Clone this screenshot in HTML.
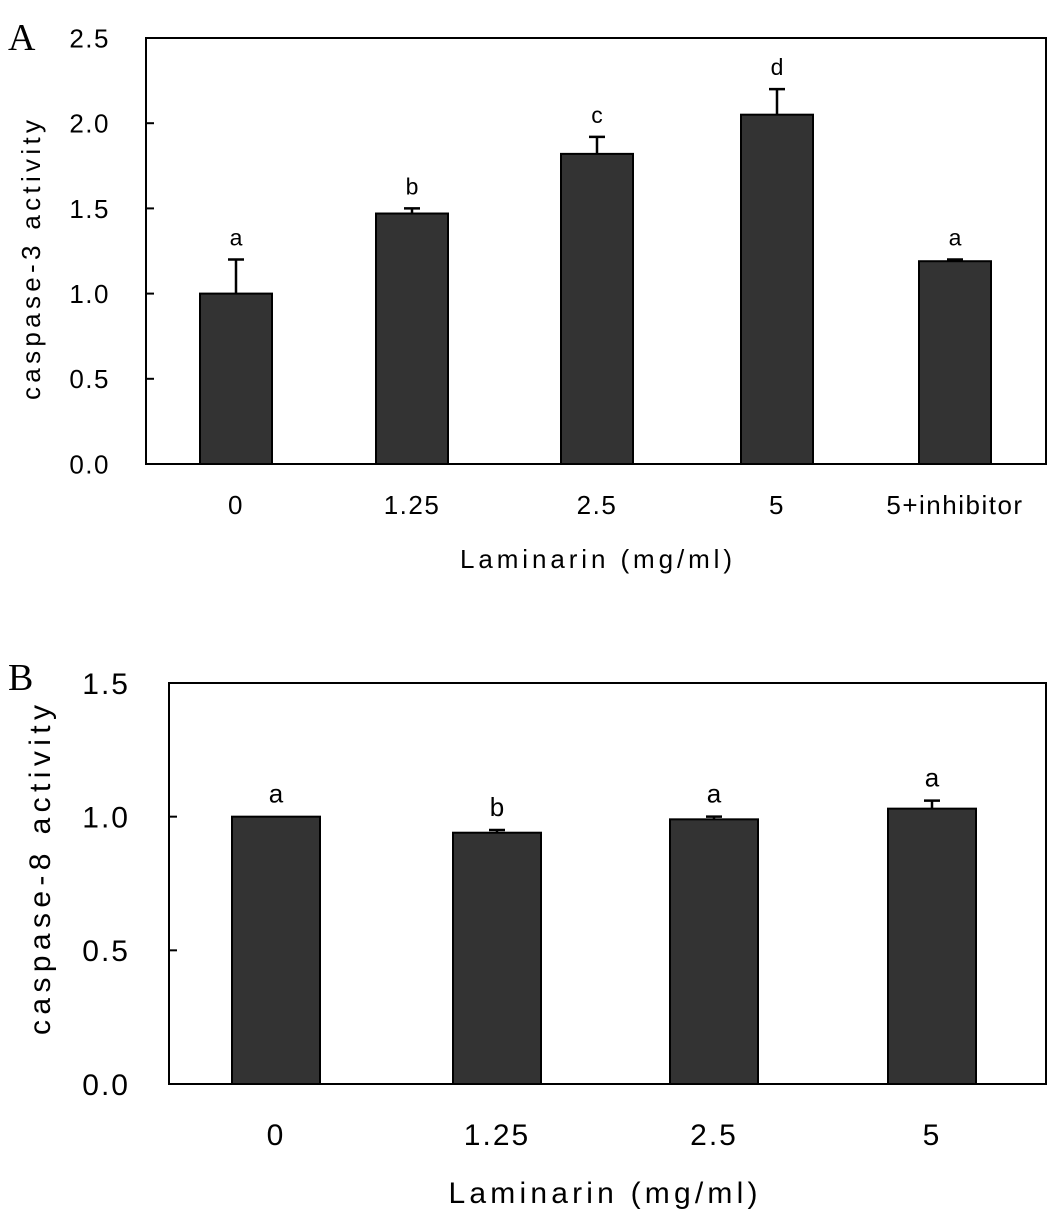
<!DOCTYPE html>
<html><head><meta charset="utf-8"><style>
body{margin:0;background:#fff;}
svg text{font-family:"Liberation Sans","NanumGothic",sans-serif;fill:#000;}
</style></head><body>
<svg id="chart" width="1063" height="1222" xmlns="http://www.w3.org/2000/svg"></svg>
<script>
const catsA = ["0","1.25","2.5","5","5+inhibitor"];
const valsA = [1.0,1.47,1.82,2.05,1.19];
const errA = [0.2,0.03,0.1,0.15,0.01];
const sigA = ["a","b","c","d","a"];
const ticksA = ["0.0","0.5","1.0","1.5","2.0","2.5"];
const catsB = ["0","1.25","2.5","5"];
const valsB = [1.0,0.94,0.99,1.03];
const errB = [0,0.01,0.01,0.03];
const sigB = ["a","b","a","a"];
const ticksB = ["0.0","0.5","1.0","1.5"];

const svg = document.getElementById('chart');
const NS = "http://www.w3.org/2000/svg";
function mk(tag, attrs, parent){const e=document.createElementNS(NS,tag);for(const k in attrs)e.setAttribute(k,attrs[k]);(parent||svg).appendChild(e);return e;}

function panel(o){
  const g = mk('g',{});
  
  
  const y = v => o.y0 - (v/o.max)*(o.y0-o.y1);
  const x = i => o.centers[i];
  const lbl = mk('text',{x:8,y:o.letterY,'font-size':38,style:'font-family:"Liberation Serif",serif'},g);
  lbl.textContent = o.letter;
  
  
  const ls = 'letter-spacing:'+o.ls+'px';
  o.ticks.forEach(t=>{
    const v=parseFloat(t), yy=y(v);
    const tl=mk('line',{x1:o.x0,x2:o.x0+8,y1:yy,y2:yy,stroke:'#000','stroke-width':2},g);
    
    
    const tt=mk('text',{x:o.tickRight,y:yy+o.fs*0.36,'font-size':o.fs,'text-anchor':'end',style:ls},g);
    tt.textContent=t;
    
    
  });
  o.cats.forEach((c,i)=>{
    const top=y(o.vals[i]);
    const b=mk('rect',{x:x(i)-o.bw/2,y:top,width:o.bw,height:o.y0-top,fill:'#333',stroke:'#000','stroke-width':2},g);
    
    
    if(o.errs[i]>0){
      const ye=y(o.vals[i]+o.errs[i]);
      const el=mk('path',{d:`M${x(i)} ${top}V${ye}M${x(i)-8} ${ye}H${x(i)+8}`,stroke:'#000','stroke-width':2.5,fill:'none'},g);
      
      
    }
    const s=mk('text',{x:x(i),y:y(o.vals[i]+o.errs[i])-14,'font-size':o.sfs,'text-anchor':'middle'},g);
    s.textContent=o.sig[i];
    
    
    const xl=mk('text',{x:x(i),y:o.xlY,'font-size':o.fs,'text-anchor':'middle',style:ls},g);
    xl.textContent=c;
    
    
  });
  const fr=mk('rect',{x:o.x0,y:o.y1,width:o.x1-o.x0,height:o.y0-o.y1,fill:'none',stroke:'#000','stroke-width':2},g);
  
  
  const xt=mk('text',{x:o.xtX-o.xtLen/2,y:o.xtY,'font-size':o.tfs,textLength:o.xtLen,lengthAdjust:'spacing'},g);
  xt.textContent='Laminarin (mg/ml)';
  
  
  const yt=mk('text',{x:-o.ytLen/2,y:0,'font-size':o.tfs,textLength:o.ytLen,lengthAdjust:'spacing',transform:`translate(${o.ytX},${o.ytY}) rotate(-90)`},g);
  yt.textContent=o.ytitle;
  
  
}
panel({name:'panel-a',letter:'A',letterY:50,x0:146,x1:1046,y0:464,y1:38,max:2.5,centers:[236,412,597,777,955],bw:72,
  cats:catsA,vals:valsA,errs:errA,sig:sigA,ticks:ticksA,fs:26,tfs:26,sfs:23,ls:1.5,tickRight:110,xlY:514,xtX:596,xtY:568,xtLen:272,ytX:40,ytY:260,ytLen:280,ytitle:'caspase-3 activity'});
panel({name:'panel-b',letter:'B',letterY:690,x0:169,x1:1046,y0:1084,y1:683,max:1.5,centers:[276,497,714,932],bw:88,
  cats:catsB,vals:valsB,errs:errB,sig:sigB,ticks:ticksB,fs:30,tfs:30,sfs:26,ls:2,tickRight:130,xlY:1145,xtX:603,xtY:1203,xtLen:309,ytX:50,ytY:870,ytLen:330,ytitle:'caspase-8 activity'});
</script>
</body></html>
